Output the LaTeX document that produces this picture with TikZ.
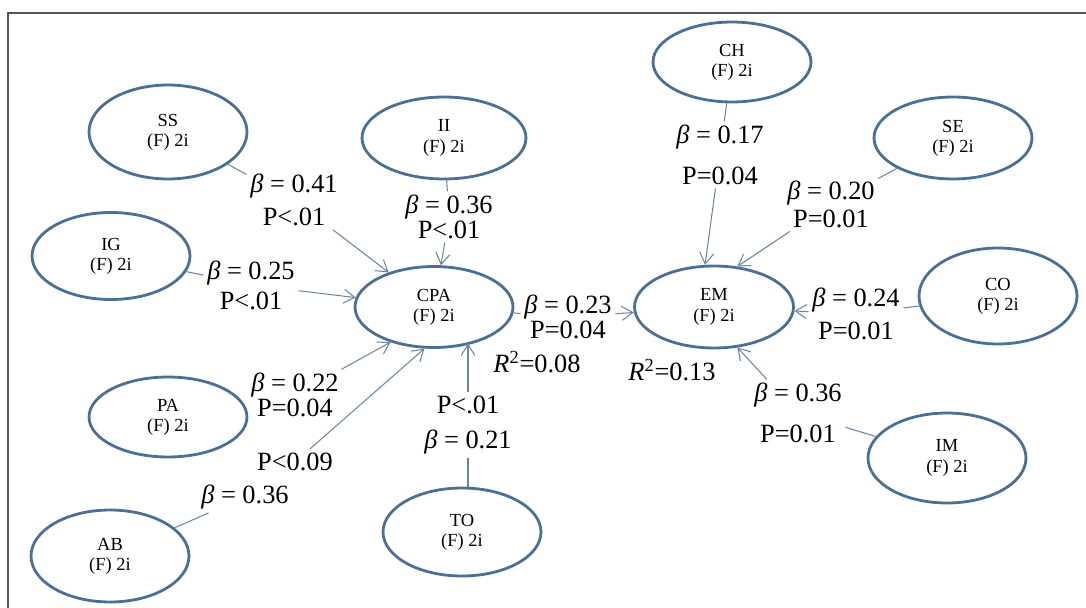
\documentclass[tikz,border=0pt]{standalone}
\usepackage{fontspec}
\setmainfont{Liberation Serif}
\usetikzlibrary{shapes.geometric, arrows.meta}
\definecolor{ellblue}{RGB}{74,112,150}
\definecolor{pathblue}{RGB}{105,135,165}
\definecolor{framegray}{RGB}{85,85,85}
\tikzstyle{latent} = [ellipse, minimum width=3.16cm, minimum height=1.64cm, inner sep=0pt, align=center, draw=ellblue, line width=1.6pt, font=\fontsize{10.5}{11.5}\selectfont]
\tikzstyle{coef} = [align=center, inner sep=2pt, font=\fontsize{15}{17}\selectfont]
\tikzstyle{link} = [draw=pathblue, line width=0.6pt]
\tikzstyle{arrow} = [link, -{Straight Barb[length=2.2mm,width=2.8mm]}]

\begin{document}
\begin{tikzpicture}[x=0.02cm, y=-0.02cm]
\useasboundingbox (0,0) rectangle (1086,608);

% Frame
\draw[framegray, line width=1pt] (8,608) -- (8,13) -- (1086,13);

% Latent variables
\node (cpa) [latent, minimum height=1.62cm] at (434,307) {CPA\\(F) 2i};
\node (em) [latent, minimum width=3.18cm] at (714,307) {EM\\(F) 2i};
\node (ss) [latent, minimum height=1.88cm] at (168,132) {SS\\(F) 2i};
\node (ii) [latent, minimum width=3.28cm] at (444,138) {II\\(F) 2i};
\node (ig) [latent, minimum height=1.74cm] at (111,256) {IG\\(F) 2i};
\node (pa) [latent, minimum height=1.6cm] at (168,417) {PA\\(F) 2i};
\node (ab) [latent, minimum height=1.84cm] at (110,556) {AB\\(F) 2i};
\node (to) [latent, minimum height=1.76cm] at (462,532) {TO\\(F) 2i};
\node (ch) [latent, minimum height=1.6cm] at (732,62) {CH\\(F) 2i};
\node (se) [latent] at (953,138) {SE\\(F) 2i};
\node (co) [latent, minimum height=1.92cm] at (998,296) {CO\\(F) 2i};
\node (im) [latent, minimum height=1.8cm] at (947,458) {IM\\(F) 2i};

% Path coefficients
\node (lss) [coef] at (294,200) {\textit{β} = 0.41\\[2pt]P<.01};
\node (lii) [coef] at (449,217) {\textit{β} = 0.36\\[-3pt]P<.01};
\node (lig) [coef] at (251,285) {\textit{β} = 0.25\\P<.01};
\node (lpa) [coef] at (295,395) {\textit{β} = 0.22\\[-3pt]P=0.04};
\node (labp) [coef] at (295,462) {P<0.09};
\node (labb) [coef] at (245,497) {\textit{β} = 0.36};
\node (lto) [coef] at (468,425) {P<.01\\[3pt]\textit{β} = 0.21};
\node (lcpa) [coef] at (568,317) {\textit{β} = 0.23\\[-3pt]P=0.04};
\node (lch) [coef] at (720,155) {\textit{β} = 0.17\\[6pt]P=0.04};
\node (lse) [coef] at (831,204) {\textit{β} = 0.20\\[-1pt]P=0.01};
\node (lco) [coef] at (856,314) {\textit{β} = 0.24\\[2pt]P=0.01};
\node (lim) [coef] at (798,413) {\textit{β} = 0.36\\[6pt]P=0.01};

% Explained variance
\node (r2cpa) [coef] at (537,362) {\textit{R}\textsuperscript{2}=0.08};
\node (r2em) [coef] at (672,370) {\textit{R}\textsuperscript{2}=0.13};

% Paths into CPA
\draw [link] (ss) -- (lss);
\draw [arrow] (lss) -- (cpa);
\draw [link] (ii) -- (lii);
\draw [arrow] (lii) -- (cpa);
\draw [link] (ig) -- (lig);
\draw [arrow] (lig) -- (cpa);
\draw [arrow] (lpa) -- (cpa.-141);
\draw [link] (ab) -- (labb);
\draw [arrow] (labp) -- (cpa.-103);
\draw [link] (to.north -| lto) -- (lto);
\draw [arrow] (lto) -- (lto |- cpa.-43);

% CPA to EM
\draw [link] (cpa) -- (lcpa);
\draw [arrow] (lcpa) -- (em);

% Paths into EM
\draw [link] (ch) -- (lch);
\draw [arrow] (lch) -- (em.102);
\draw [link] (se) -- (lse);
\draw [arrow] (lse) -- (em.60);
\draw [link] (co) -- (lco);
\draw [arrow] (lco) -- (em);
\draw [link] (im) -- (lim);
\draw [arrow] (lim) -- (em.-60);

\end{tikzpicture}
\end{document}
